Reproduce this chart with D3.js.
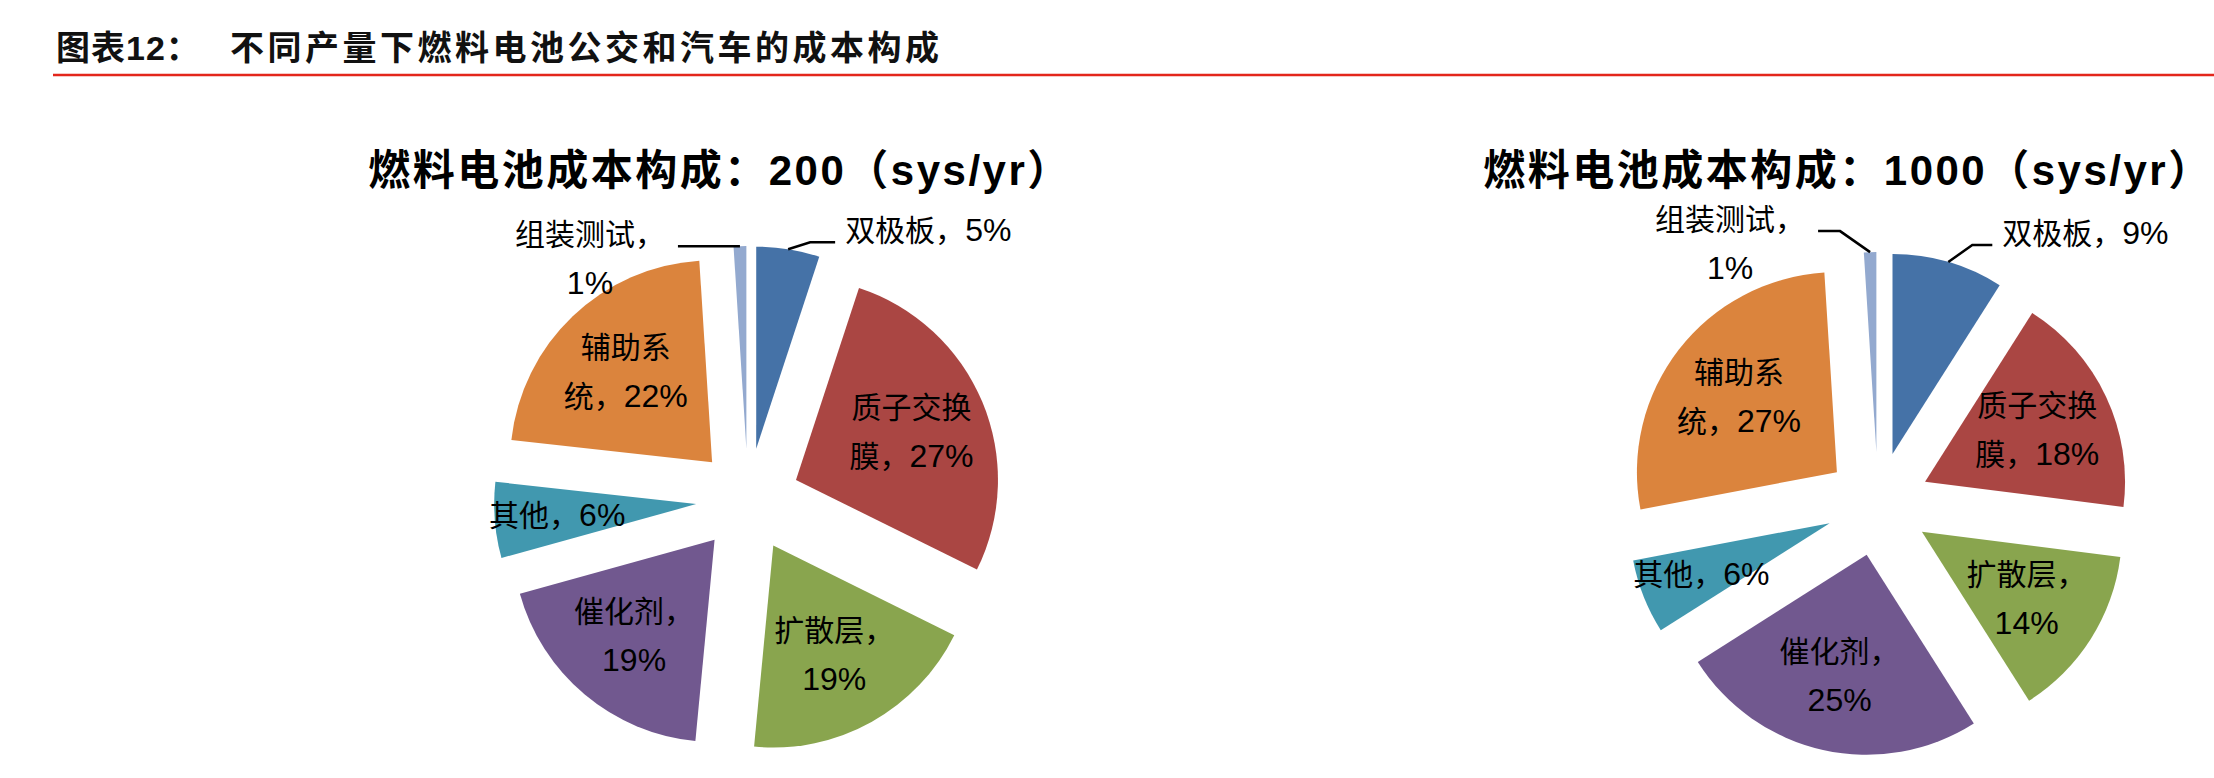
<!DOCTYPE html>
<html>
<head>
<meta charset="utf-8">
<script src="https://cdn.jsdelivr.net/npm/d3@7"></script>
<style>
  body { margin: 0; background: #fff; }
  svg { display: block; }
</style>
</head>
<body>
<div id="canvas"></div>
<script>
// data
const categories = ["双极板", "质子交换膜", "扩散层", "催化剂", "其他", "辅助系统", "组装测试"];
const values200 = [5, 27, 19, 19, 6, 22, 1];
const values1000 = [9, 18, 14, 25, 6, 27, 1];
const chartTitles = ["燃料电池成本构成：200（sys/yr）", "燃料电池成本构成：1000（sys/yr）"];
const headerText = ["图表12：", "不同产量下燃料电池公交和汽车的成本构成"];
// where Excel wrapped each label (character index), null = one line
const labelBreaks = [null, 4, 4, 4, null, 3, 5];
const outsideLabels = ["双极板", "组装测试"];
const colors = ["#4572A7", "#AA4643", "#89A54E", "#71588F", "#4198AF", "#DB843D", "#93A9CF"];

let width = 2214;
let height = 778;

const cjkFont = "'Noto Sans CJK SC', sans-serif";
const boldFont = "'Liberation Sans', 'Noto Sans CJK SC', sans-serif";
const numFont = "'Liberation Sans Narrow', 'Liberation Sans', sans-serif";

var svg = d3.select("#canvas").append("svg")
    .attr("width", width)
    .attr("height", height);

// page header
svg.append("text")
    .attr("x", 56).attr("y", 60)
    .attr("font-family", boldFont).attr("font-weight", "bold")
    .attr("font-size", 34).attr("letter-spacing", 1)
    .attr("fill", "#111")
    .text(headerText[0]);
svg.append("text")
    .attr("x", 230).attr("y", 60)
    .attr("font-family", boldFont).attr("font-weight", "bold")
    .attr("font-size", 34).attr("letter-spacing", 3.5)
    .attr("fill", "#111")
    .text(headerText[1]);
svg.append("line")
    .attr("x1", 53).attr("x2", width)
    .attr("y1", 75).attr("y2", 75)
    .attr("stroke", "#e3261b")
    .attr("stroke-width", 2.5);

// one label line: chinese part + number part
function addLine(parent, x, y, str, anchor) {
    let t = parent.append("text")
        .attr("x", x).attr("y", y)
        .attr("text-anchor", anchor)
        .attr("fill", "#000");
    str.split(/(\d+%)/).filter(s => s.length).forEach(s => {
        let isNum = /^\d+%$/.test(s);
        t.append("tspan")
            .attr("font-family", isNum ? numFont : cjkFont)
            .attr("font-size", isNum ? 32 : 30)
            .text(s);
    });
    return t;
}

const explode = 52;
const lineGap = 49;
const pie = d3.pie().sort(null).value(d => d.value);

const pies = [
    { values: values200, title: chartTitles[0], cx: 748, cy: 500, r: 202, titleX: 720,
      leaders: { "双极板": [[22, -7], [25, 0]], "组装测试": [[0, 0], [-62, 0]] } },
    { values: values1000, title: chartTitles[1], cx: 1878, cy: 504, r: 200, titleX: 1848,
      leaders: { "双极板": [[24, -17], [20, 0]], "组装测试": [[-30, -21], [-22, 0]] } }
];

pies.forEach(cfg => {
    svg.append("text")
        .attr("x", cfg.titleX).attr("y", 185)
        .attr("text-anchor", "middle")
        .attr("font-family", boldFont).attr("font-weight", "bold")
        .attr("font-size", 42).attr("letter-spacing", 2.5)
        .attr("fill", "#000")
        .text(cfg.title);

    let g = svg.append("g").attr("transform", `translate(${cfg.cx},${cfg.cy})`);
    let arc = d3.arc().innerRadius(0).outerRadius(cfg.r);
    let data = categories.map((c, i) => ({ name: c, value: cfg.values[i], color: colors[i], brk: labelBreaks[i] }));
    let arcs = pie(data);
    arcs.forEach(a => {
        a.mid = (a.startAngle + a.endAngle) / 2;
        a.ux = Math.sin(a.mid);
        a.uy = -Math.cos(a.mid);
    });

    g.selectAll("path.slice").data(arcs).join("path")
        .attr("class", "slice")
        .attr("transform", a => `translate(${a.ux * explode},${a.uy * explode})`)
        .attr("d", arc)
        .attr("fill", a => a.data.color);

    arcs.forEach(a => {
        let full = a.data.name + "，" + a.data.value + "%";
        let lines = a.data.brk ? [full.slice(0, a.data.brk), full.slice(a.data.brk)] : [full];

        if (outsideLabels.indexOf(a.data.name) < 0) {
            let rr = explode + cfg.r * (lines.length > 1 ? 0.62 : 0.69);
            let lx = a.ux * rr, ly = a.uy * rr;
            lines.forEach((s, i) => addLine(g, lx, ly + (i - (lines.length - 1) / 2) * lineGap + 11, s, "middle"));
            return;
        }

        // outside label with leader line
        let seg = cfg.leaders[a.data.name];
        let px = a.ux * (explode + cfg.r), py = a.uy * (explode + cfg.r);
        let ex = px + seg[0][0], ey = py + seg[0][1];
        let lx = ex + seg[1][0], ly = ey + seg[1][1];
        g.append("path")
            .attr("d", `M${px},${py}L${ex},${ey}L${lx},${ly}`)
            .attr("fill", "none")
            .attr("stroke", "#000")
            .attr("stroke-width", 2.5);

        if (seg[1][0] > 0) {
            lines.forEach((s, i) => addLine(g, lx + 10, ly - 1 + i * lineGap, s, "start"));
        } else {
            let first = addLine(g, lx - 13, ly - 1, lines[0], "end");
            let w = first.node().getComputedTextLength();
            let mx = lx - 13 - w / 2;
            lines.slice(1).forEach((s, i) => addLine(g, mx, ly - 1 + (i + 1) * lineGap, s, "middle"));
        }
    });
});
</script>
</body>
</html>
